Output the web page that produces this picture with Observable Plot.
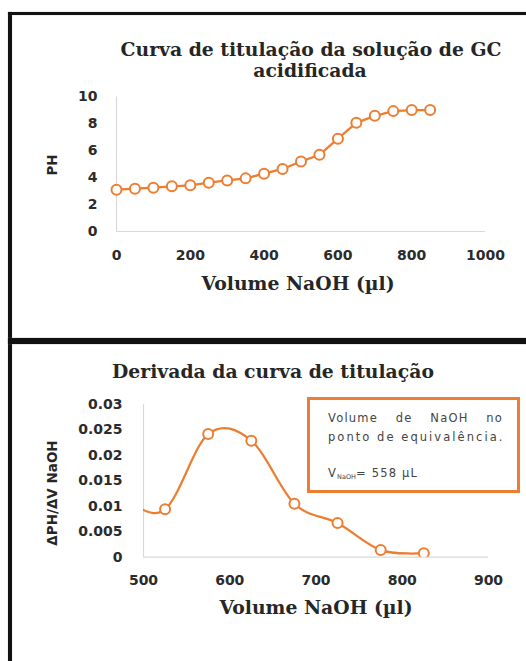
<!DOCTYPE html>
<html>
<head>
<meta charset="utf-8">
<script src="https://cdn.jsdelivr.net/npm/d3@7"></script>
<script src="https://cdn.jsdelivr.net/npm/@observablehq/plot@0.6"></script>
<style>
  html, body { margin: 0; padding: 0; background: #fff; }
  #page { position: relative; width: 526px; height: 661px; overflow: hidden; background: #fff; }
  .frame { position: absolute; background: #111; box-shadow: 0 0 1px #777; }
  .title { position: absolute; font-family: "DejaVu Serif"; font-weight: bold; color: #262626; font-size: 18.8px;
           white-space: nowrap; transform: translate(-50%, -50%); line-height: 1; }
  .ytitle { position: absolute; font-family: "DejaVu Sans"; font-weight: bold; font-size: 13.5px; color: #262626;
            white-space: nowrap; transform: translate(-50%, -50%) rotate(-90deg); line-height: 1; }
  .note { position: absolute; left: 307px; top: 397px; width: 213px; height: 96px;
          box-sizing: border-box; border: 3px solid #ED7D31; }
  .note div { position: absolute; left: 18px; width: 175px; font-family: "DejaVu Sans"; font-size: 11.5px;
              color: #444; line-height: 1; white-space: nowrap; letter-spacing: 1.2px; }
  .just { text-align: justify; text-align-last: justify; }
  .note sub { font-size: 6.5px; letter-spacing: 0; vertical-align: -2px; }
  svg { position: absolute; left: 0; }
</style>
</head>
<body>
<div id="page">
  <div class="frame" style="left:8px;top:12px;width:4px;height:649px;"></div>
  <div class="frame" style="left:8px;top:12px;width:518px;height:3px;"></div>
  <div class="frame" style="left:8px;top:338px;width:518px;height:6px;"></div>

  <div class="title" style="left:311px;top:49px;">Curva de titulação da solução de GC</div>
  <div class="title" style="left:310px;top:70px;">acidificada</div>
  <div class="ytitle" style="left:53px;top:165px;">PH</div>
  <div class="title" style="left:298px;top:283px;">Volume NaOH (µl)</div>

  <div class="title" style="left:273px;top:371px;">Derivada da curva de titulação</div>
  <div class="ytitle" style="left:53px;top:493px;">ΔPH/ΔV NaOH</div>
  <div class="title" style="left:316px;top:607px;">Volume NaOH (µl)</div>

  <div class="note">
    <div class="just" style="top:13px;">Volume de NaOH no</div>
    <div style="top:32px;letter-spacing:2.05px;">ponto de equivalência.</div>
    <div style="top:68px;">V<sub>NaOH</sub>= 558 µL</div>
  </div>
</div>
<script>
// Titration curve: volume of NaOH added (µl) and measured pH
const volume = [0, 50, 100, 150, 200, 250, 300, 350, 400, 450, 500, 550, 600, 650, 700, 750, 800, 850];
const ph = [3.11, 3.18, 3.26, 3.36, 3.43, 3.63, 3.80, 3.95, 4.30, 4.65, 5.20, 5.70, 6.90, 8.08, 8.60, 8.95, 9.03, 9.03];

// First derivative, plotted at interval midpoints (points left of 500 fall outside the axis)
const midVolume = [425, 475, 525, 575, 625, 675, 725, 775, 825];
const dPhdV = [0.0070, 0.0105, 0.0094, 0.0242, 0.0229, 0.0105, 0.0067, 0.0014, 0.0008];

const phTicksX = [0, 200, 400, 600, 800, 1000];
const phTicksY = [0, 2, 4, 6, 8, 10];
const derivTicksX = [500, 600, 700, 800, 900];
const derivTicksY = [0, 0.005, 0.01, 0.015, 0.02, 0.025, 0.03];

const orange = "#ED7D31";
const axisGrey = "#d9d9d9";
const tickStyle = {
  fontFamily: "DejaVu Sans", fontWeight: "bold", fontSize: "14px",
  color: "#2b2b2b", background: "transparent", overflow: "visible"
};
const plain = d => String(d);

const titration = volume.map((v, i) => ({volume: v, ph: ph[i]}));
const derivative = midVolume.map((v, i) => ({volume: v, d: dPhdV[i]}));

const phChart = Plot.plot({
  width: 526, height: 340,
  marginLeft: 116, marginRight: 41, marginTop: 96.5, marginBottom: 109,
  x: {domain: [0, 1000]},
  y: {domain: [0, 10]},
  style: tickStyle,
  marks: [
    Plot.ruleY([0], {stroke: axisGrey, strokeWidth: 1.2}),
    Plot.ruleX([0], {y1: 0, y2: 10, stroke: axisGrey, strokeWidth: 1.2}),
    Plot.axisX(phTicksX, {tickSize: 0, tickPadding: 19, label: null, tickFormat: plain}),
    Plot.axisY(phTicksY, {tickSize: 0, tickPadding: 19, label: null, tickFormat: plain}),
    Plot.line(titration, {x: "volume", y: "ph", stroke: orange, strokeWidth: 2.25}),
    Plot.dot(titration, {x: "volume", y: "ph", r: 5, stroke: orange, strokeWidth: 2, fill: "white"})
  ]
});
phChart.style.top = "0px";

const derivChart = Plot.plot({
  width: 526, height: 321,
  marginLeft: 143, marginRight: 38, marginTop: 64, marginBottom: 104.3,
  x: {domain: [500, 900]},
  y: {domain: [0, 0.03]},
  style: tickStyle,
  marks: [
    Plot.ruleY([0], {stroke: axisGrey, strokeWidth: 1.2}),
    Plot.ruleX([500], {y1: 0, y2: 0.03, stroke: axisGrey, strokeWidth: 1.2}),
    Plot.axisX(derivTicksX, {tickSize: 0, tickPadding: 18, label: null, tickFormat: plain}),
    Plot.axisY(derivTicksY, {tickSize: 0, tickPadding: 21, label: null, tickFormat: plain}),
    Plot.line(derivative, {x: "volume", y: "d", stroke: orange, strokeWidth: 2.25,
                           curve: "cardinal", tension: 0, clip: true}),
    Plot.dot(derivative, {x: "volume", y: "d", r: 5, stroke: orange, strokeWidth: 2, fill: "white", clip: true})
  ]
});
derivChart.style.top = "340px";

const page = document.getElementById("page");
page.insertBefore(phChart, page.firstChild);
page.insertBefore(derivChart, page.firstChild);
</script>
</body>
</html>
